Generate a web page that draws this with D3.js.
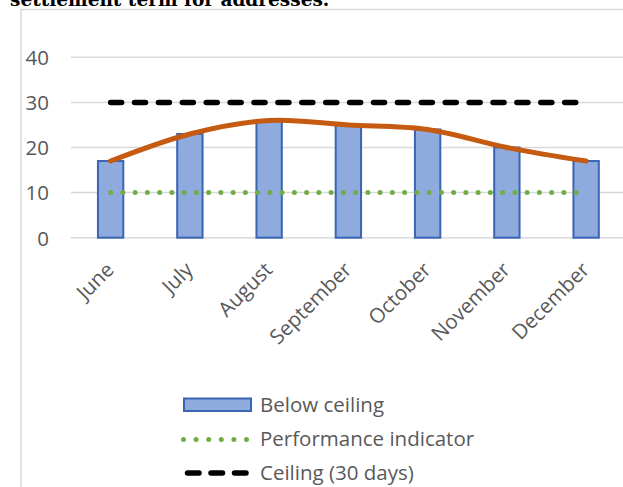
<!DOCTYPE html>
<html>
<head>
<meta charset="utf-8">
<script src="https://cdn.jsdelivr.net/npm/d3@7"></script>
<style>
  html, body { margin: 0; padding: 0; background: #fff; }
  svg { display: block; }
</style>
</head>
<body>
<svg id="chart" width="623" height="487"></svg>
<script>
// Monthly settlement term (days)
const months = ["June", "July", "August", "September", "October", "November", "December"];
const belowCeiling = [17, 23, 26, 25, 24, 20, 17];
const performanceIndicator = [10, 10, 10, 10, 10, 10, 10];
const ceiling = [30, 30, 30, 30, 30, 30, 30];
const yTicks = [0, 10, 20, 30, 40];
const legendLabels = ["Below ceiling", "Performance indicator", "Ceiling (30 days)"];
const titleText = "settlement term for addresses.";

const svg = d3.select("#chart");
const font = "'Open Sans', 'Noto Sans', sans-serif";
const textColor = "#595959";
const gridColor = "#d9d9d9";

// caption line running above the chart frame
svg.append("text")
  .attr("x", 10).attr("y", 6)
  .attr("font-family", "'DejaVu Serif', serif")
  .attr("font-size", 18.5)
  .attr("font-weight", "bold")
  .attr("fill", "#000")
  .text(titleText);

// chart frame
svg.append("path")
  .attr("d", "M21,487 V9.5 H623")
  .attr("fill", "none")
  .attr("stroke", gridColor)
  .attr("stroke-width", 1.5);

const x = d3.scaleBand()
  .domain(months)
  .range([71, 625.75])
  .paddingInner(0.68)
  .paddingOuter(0.34);

const y = d3.scaleLinear()
  .domain([0, 40])
  .range([237.7, 57.3]);

const cx = m => x(m) + x.bandwidth() / 2;

// horizontal gridlines
svg.append("g")
  .selectAll("line")
  .data(yTicks)
  .join("line")
  .attr("x1", 71).attr("x2", 625.75)
  .attr("y1", d => y(d)).attr("y2", d => y(d))
  .attr("stroke", gridColor)
  .attr("stroke-width", 1.5);

// y axis labels
const yAxis = d3.axisLeft(y).tickValues(yTicks).tickSize(0).tickPadding(0);
const gy = svg.append("g").attr("transform", "translate(49,0)").call(yAxis);
gy.select(".domain").remove();
gy.selectAll("text")
  .attr("font-family", font)
  .attr("font-size", 20.5)
  .attr("fill", textColor)
  .attr("dy", "0.36em");

// bars
svg.append("g")
  .selectAll("rect")
  .data(months.map((m, i) => ({ m, v: belowCeiling[i] })))
  .join("rect")
  .attr("x", d => x(d.m))
  .attr("width", x.bandwidth())
  .attr("y", d => y(d.v))
  .attr("height", d => y(0) - y(d.v))
  .attr("fill", "#8faadc")
  .attr("stroke", "#3b64b4")
  .attr("stroke-width", 2);

// performance indicator (dotted)
const straight = d3.line().x((d, i) => cx(months[i])).y(d => y(d));
svg.append("path")
  .attr("d", straight(performanceIndicator))
  .attr("fill", "none")
  .attr("stroke", "#70ad47")
  .attr("stroke-width", 5)
  .attr("stroke-linecap", "round")
  .attr("stroke-dasharray", "0 12.25");

// ceiling (dashed)
svg.append("path")
  .attr("d", straight(ceiling))
  .attr("fill", "none")
  .attr("stroke", "#000")
  .attr("stroke-width", 5.5)
  .attr("stroke-linecap", "round")
  .attr("stroke-dasharray", "11 12.9");

// smoothed trend through the bar values
const smooth = d3.line()
  .x((d, i) => cx(months[i]))
  .y(d => y(d))
  .curve(d3.curveCardinal.tension(0));
svg.append("path")
  .attr("d", smooth(belowCeiling))
  .attr("fill", "none")
  .attr("stroke", "#c55a11")
  .attr("stroke-width", 5)
  .attr("stroke-linecap", "round");

// month labels, rotated
const xAxis = d3.axisBottom(x).tickSize(0).tickPadding(0);
const gx = svg.append("g").call(xAxis);
gx.select(".domain").remove();
gx.selectAll(".tick").attr("transform", d => `translate(${cx(d) + 4.5},271)`);
gx.selectAll("text")
  .attr("font-family", font)
  .attr("font-size", 20.5)
  .attr("fill", textColor)
  .attr("text-anchor", "end")
  .attr("dy", 0)
  .attr("y", 0)
  .attr("transform", "rotate(-45)");

// legend
const legend = svg.append("g");
const rowY = [412, 446, 479.5];
legendLabels.forEach((label, i) => {
  const baseY = rowY[i];
  const midY = baseY - 6.5;
  if (i === 0) {
    legend.append("rect")
      .attr("x", 184).attr("y", baseY - 13.5)
      .attr("width", 67).attr("height", 12.5)
      .attr("fill", "#8faadc")
      .attr("stroke", "#3b64b4")
      .attr("stroke-width", 2);
  } else if (i === 1) {
    legend.append("line")
      .attr("x1", 183.5).attr("x2", 250)
      .attr("y1", midY).attr("y2", midY)
      .attr("stroke", "#70ad47")
      .attr("stroke-width", 5)
      .attr("stroke-linecap", "round")
      .attr("stroke-dasharray", "0 12.6");
  } else {
    legend.append("line")
      .attr("x1", 187.5).attr("x2", 250)
      .attr("y1", midY).attr("y2", midY)
      .attr("stroke", "#000")
      .attr("stroke-width", 5.5)
      .attr("stroke-linecap", "round")
      .attr("stroke-dasharray", "11.5 12");
  }
  legend.append("text")
    .attr("x", 260).attr("y", baseY)
    .attr("font-family", font)
    .attr("font-size", 20.5)
    .attr("fill", textColor)
    .text(label);
});
</script>
</body>
</html>
